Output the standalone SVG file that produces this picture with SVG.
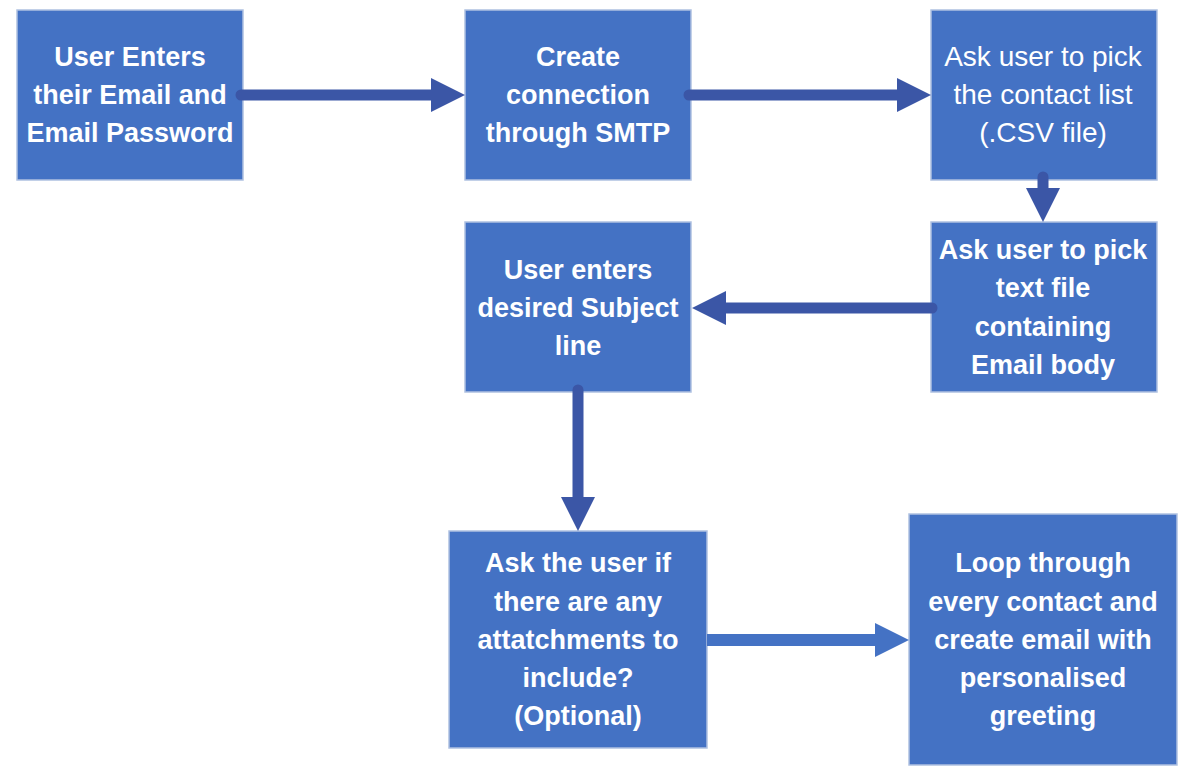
<svg xmlns="http://www.w3.org/2000/svg" width="1195" height="776" viewBox="0 0 1195 776">
<style>
.box{fill:#4472C4;stroke:#AFC1E1;stroke-width:1.5}
.t{font-family:"Liberation Sans",Arial,sans-serif;font-size:27px;font-weight:bold;fill:#fff;text-anchor:middle}
.r{font-weight:normal;font-size:28px}
.sh{stroke:#3B56A6;stroke-width:11;stroke-linecap:round;fill:none}
.hd{fill:#3B56A6}
.lt{fill:#4472C4}
</style>
<rect width="1195" height="776" fill="#fff"/>
<g id="n1"><rect class="box" x="17" y="10" width="226" height="170"/>
<text class="t" x="130" y="66">User Enters</text><text class="t" x="130" y="104">their Email and</text><text class="t" x="130" y="142">Email Password</text></g>
<g id="n2"><rect class="box" x="465" y="10" width="226" height="170"/>
<text class="t" x="578" y="66">Create</text><text class="t" x="578" y="104">connection</text><text class="t" x="578" y="142">through SMTP</text></g>
<g id="n3"><rect class="box" x="931" y="10" width="226" height="170"/>
<text class="t r" x="1043" y="66">Ask user to pick</text><text class="t r" x="1043" y="104">the contact list</text><text class="t r" x="1043" y="142">(.CSV file)</text></g>
<g id="n4"><rect class="box" x="931" y="222" width="226" height="170"/>
<text class="t" x="1043" y="259">Ask user to pick</text><text class="t" x="1043" y="297">text file</text><text class="t" x="1043" y="336">containing</text><text class="t" x="1043" y="374">Email body</text></g>
<g id="n5"><rect class="box" x="465" y="222" width="226" height="170"/>
<text class="t" x="578" y="279">User enters</text><text class="t" x="578" y="317">desired Subject</text><text class="t" x="578" y="355">line</text></g>
<g id="n6"><rect class="box" x="449" y="531" width="258" height="217"/>
<text class="t" x="578" y="572">Ask the user if</text><text class="t" x="578" y="611">there are any</text><text class="t" x="578" y="649">attatchments to</text><text class="t" x="578" y="687">include?</text><text class="t" x="578" y="725">(Optional)</text></g>
<g id="n7"><rect class="box" x="909" y="514" width="268" height="251"/>
<text class="t" x="1043" y="572">Loop through</text><text class="t" x="1043" y="611">every contact and</text><text class="t" x="1043" y="649">create email with</text><text class="t" x="1043" y="687">personalised</text><text class="t" x="1043" y="725">greeting</text></g>
<g id="connectors">
<path class="sh" d="M241 95H433"/><polygon class="hd" points="431,78 465,95 431,112"/>
<path class="sh" d="M689 95H899"/><polygon class="hd" points="897,78 931,95 897,112"/>
<path class="sh" d="M1043 177V190"/><polygon class="hd" points="1026,188 1043,222 1060,188"/>
<path class="sh" d="M932 308H724"/><polygon class="hd" points="726,291 692,308 726,325"/>
<path class="sh" d="M578 390V499"/><polygon class="hd" points="561,497 578,531 595,497"/>
<rect class="lt" x="707" y="634" width="170" height="12"/><polygon class="lt" points="875,623 909,640 875,657"/>
</g>
</svg>
